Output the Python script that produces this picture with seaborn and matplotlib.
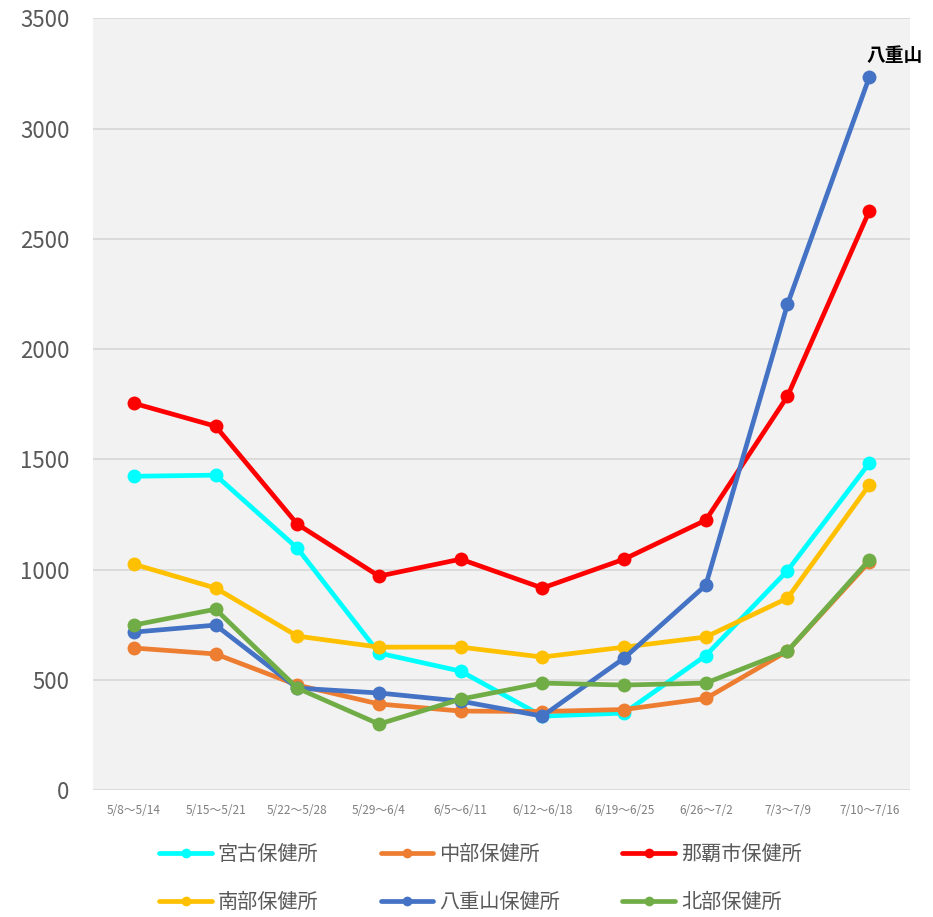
import pandas as pd
import matplotlib.pyplot as plt
from matplotlib.lines import Line2D
import seaborn as sns

weeks = ["5/8～5/14", "5/15～5/21", "5/22～5/28", "5/29～6/4", "6/5～6/11",
         "6/12～6/18", "6/19～6/25", "6/26～7/2", "7/3～7/9", "7/10～7/16"]

miyako = [1423, 1428, 1097, 621, 539, 335, 349, 610, 995, 1482]
chubu = [644, 617, 476, 390, 358, 356, 365, 415, 630, 1034]
naha = [1754, 1650, 1206, 970, 1047, 916, 1047, 1224, 1786, 2625]
nanbu = [1024, 916, 698, 648, 648, 603, 648, 694, 870, 1383]
yaeyama = [716, 748, 462, 440, 403, 335, 598, 929, 2203, 3232]
hokubu = [748, 820, 462, 299, 412, 485, 476, 485, 630, 1043]

names = ["宮古保健所", "中部保健所", "那覇市保健所", "南部保健所", "八重山保健所", "北部保健所"]
series = [miyako, chubu, naha, nanbu, yaeyama, hokubu]
colors = ["#00FFFF", "#ED7D31", "#FF0000", "#FFC000", "#4472C4", "#70AD47"]

rows = []
for name, vals in zip(names, series):
    for w, v in zip(weeks, vals):
        rows.append({"week": w, "count": v, "office": name})
df = pd.DataFrame(rows)

sns.set_style("white")
plt.rcParams["font.family"] = ["Noto Sans CJK JP", "DejaVu Sans"]

fig = plt.figure(figsize=(9.33, 9.17), dpi=100)
ax = fig.add_axes([0.0997, 0.1385, 0.8757, 0.8415])
ax.set_facecolor("#F2F2F2")

sns.lineplot(data=df, x="week", y="count", hue="office", hue_order=names,
             palette=colors, marker="o", markersize=10, markeredgewidth=0,
             linewidth=3.4, sort=False, ax=ax, legend=False)

ax.set_xlim(-0.5, len(weeks) - 0.5)
ax.set_ylim(0, 3500)
ax.set_yticks(range(0, 3501, 500))
ax.yaxis.grid(True, color="#D9D9D9", linewidth=1.3)
ax.set_axisbelow(True)
for s in ax.spines.values():
    s.set_visible(False)
ax.set_xlabel("")
ax.set_ylabel("")
ax.tick_params(axis="y", length=0, labelsize=16, labelcolor="#595959", pad=17)
ax.tick_params(axis="x", length=0, labelsize=8.5, labelcolor="#7F7F7F", pad=10)

ax.annotate("八重山", xy=(len(weeks) - 1, yaeyama[-1]), xytext=(-2, 12),
            textcoords="offset points", fontsize=13.5, fontweight="bold",
            color="black", annotation_clip=False)

# legend: row-major order with 3 columns
order = [0, 3, 1, 4, 2, 5]
handles = [Line2D([], [], color=colors[i], linewidth=3.4, marker="o",
                  markersize=7, markeredgewidth=0) for i in order]
labels = [names[i] for i in order]
fig.legend(handles, labels, loc="center", bbox_to_anchor=(0.515, 0.042), ncol=3,
           frameon=False, fontsize=14.5, labelcolor="#595959", handlelength=2.6,
           handletextpad=0.3, columnspacing=3.1, labelspacing=1.3,
           borderpad=0.2)

fig.savefig("out.png", dpi=100)
